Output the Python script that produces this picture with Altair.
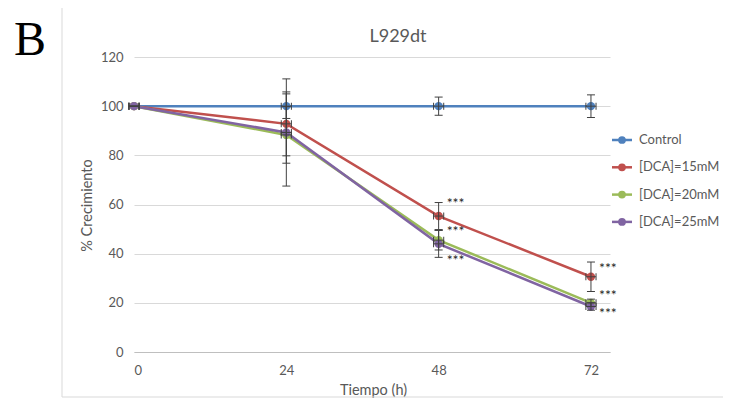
import altair as alt
import pandas as pd

# ---------------- data ----------------
times = [0, 24, 48, 72]
series = ["Control", "[DCA]=15mM", "[DCA]=20mM", "[DCA]=25mM"]
colors = ["#4F81BD", "#C0504D", "#9BBB59", "#8064A2"]

control = [100, 100, 100, 100]
dca15 = [100, 92.8, 55.3, 30.6]
dca20 = [100, 88.3, 45.5, 20.0]
dca25 = [100, 89.3, 44.0, 18.5]

err_control = [0, 5.0, 3.7, 4.6]
err15 = [0, 13.0, 5.5, 6.0]
err20 = [0, 11.5, 4.0, 1.5]
err25 = [0, 21.8, 5.5, 1.5]
x_err = 0.8

sig_time = [48, 48, 48, 72, 72, 72]
sig_y = [61.0, 49.5, 37.8, 34.6, 23.5, 16.4]
sig_label = ["***", "***", "***", "***", "***", "***"]

x_ticks = [0, 24, 48, 72]
y_ticks = [0, 20, 40, 60, 80, 100, 120]

FONT = "Lato"
TXT = "#595959"

rows = []
for name, vals, errs in zip(series, [control, dca15, dca20, dca25],
                            [err_control, err15, err20, err25]):
    for t, v, e in zip(times, vals, errs):
        rows.append({"series": name, "time": t, "value": v, "err": e,
                     "lo": v - e, "hi": v + e,
                     "xlo": t - x_err, "xhi": t + x_err})
df = pd.DataFrame(rows)
df_err = df[df["err"] > 0]

sig = pd.DataFrame({"time": sig_time, "value": sig_y, "label": sig_label})

legend_df = pd.DataFrame({"series": series,
                          "ly": [83 + 27.3 * i for i in range(len(series))]})

color = alt.Color("series:N", scale=alt.Scale(domain=series, range=colors), legend=None)
xs = alt.Scale(domain=[0, 75], nice=False, zero=False)
ys = alt.Scale(domain=[0, 120], nice=False)

base = alt.Chart(df)

border = alt.Chart(pd.DataFrame({"a": [0]})).mark_rect(
    fillOpacity=0, stroke="#D9D9D9", strokeWidth=1
).encode(x=alt.value(-72), x2=alt.value(600), y=alt.value(-50), y2=alt.value(340))

lines = base.mark_line(strokeWidth=2.5).encode(
    x=alt.X("time:Q", scale=xs,
            axis=alt.Axis(values=x_ticks, grid=False, ticks=False, domainColor="#BFBFBF",
                          labelPadding=12, labelFont=FONT, labelFontSize=13, labelColor=TXT,
                          title="Tiempo (h)", titleFont=FONT, titleFontSize=14.5,
                          titleFontWeight="normal", titleColor=TXT,
                          titleX=239, titleY=38, titleBaseline="middle")),
    y=alt.Y("value:Q", scale=ys,
            axis=alt.Axis(values=y_ticks, grid=True, gridColor="#D9D9D9", domain=False,
                          ticks=False, labelPadding=11, labelFont=FONT, labelFontSize=13,
                          labelColor=TXT, title="% Crecimiento", titleFont=FONT,
                          titleFontSize=14.5, titleFontWeight="normal", titleColor=TXT,
                          titleX=-47, titleY=148, titleAngle=270, titleBaseline="middle",
                          titleAlign="center")),
    color=color,
)

points = base.mark_circle(size=70, opacity=1).encode(
    x="time:Q", y="value:Q", color=color)

err_col = "#404040"
yerr = alt.Chart(df_err).mark_rule(color=err_col, strokeWidth=1).encode(
    x="time:Q", y="lo:Q", y2="hi:Q")
ycap_lo = alt.Chart(df_err).mark_tick(orient="horizontal", size=8, thickness=1,
                                      color=err_col, opacity=1).encode(x="time:Q", y="lo:Q")
ycap_hi = alt.Chart(df_err).mark_tick(orient="horizontal", size=8, thickness=1,
                                      color=err_col, opacity=1).encode(x="time:Q", y="hi:Q")
xerr = base.mark_rule(color=err_col, strokeWidth=1).encode(
    x="xlo:Q", x2="xhi:Q", y="value:Q")
xcap_lo = base.mark_tick(orient="vertical", size=7, thickness=1, color=err_col,
                         opacity=1).encode(x="xlo:Q", y="value:Q")
xcap_hi = base.mark_tick(orient="vertical", size=7, thickness=1, color=err_col,
                         opacity=1).encode(x="xhi:Q", y="value:Q")

stars = alt.Chart(sig).mark_text(align="left", baseline="middle", dx=8, dy=2, fontSize=14,
                                 font=FONT, color="#262626").encode(
    x="time:Q", y="value:Q", text="label:N")

leg_rule = alt.Chart(legend_df).mark_rule(strokeWidth=2.5).encode(
    x=alt.value(478), x2=alt.value(498), y=alt.Y("ly:Q", scale=None), color=color)
leg_pt = alt.Chart(legend_df).mark_circle(size=60, opacity=1).encode(
    x=alt.value(488), y=alt.Y("ly:Q", scale=None), color=color)
leg_txt = alt.Chart(legend_df).mark_text(align="left", baseline="middle", font=FONT,
                                         fontSize=13, color=TXT).encode(
    x=alt.value(505), y=alt.Y("ly:Q", scale=None), text="series:N")

title = alt.Chart(pd.DataFrame({"t": ["L929dt"]})).mark_text(
    align="center", baseline="middle", font=FONT, fontSize=18, color=TXT).encode(
    x=alt.value(264), y=alt.value(-20), text="t:N")

letter = alt.Chart(pd.DataFrame({"t": ["B"]})).mark_text(
    align="left", baseline="alphabetic", font="Liberation Serif", fontSize=48,
    color="#000000").encode(x=alt.value(-120), y=alt.value(-2), text="t:N")

chart = alt.layer(
    border, lines, points, yerr, ycap_lo, ycap_hi, xerr, xcap_lo, xcap_hi,
    stars, leg_rule, leg_pt, leg_txt, title, letter
).properties(
    width=476, height=295,
    padding={"left": 126, "top": 49, "right": 113, "bottom": 46},
    autosize="none",
).configure_view(stroke=None)

chart.save("out.html", embed_options={"renderer": "svg", "actions": False})
